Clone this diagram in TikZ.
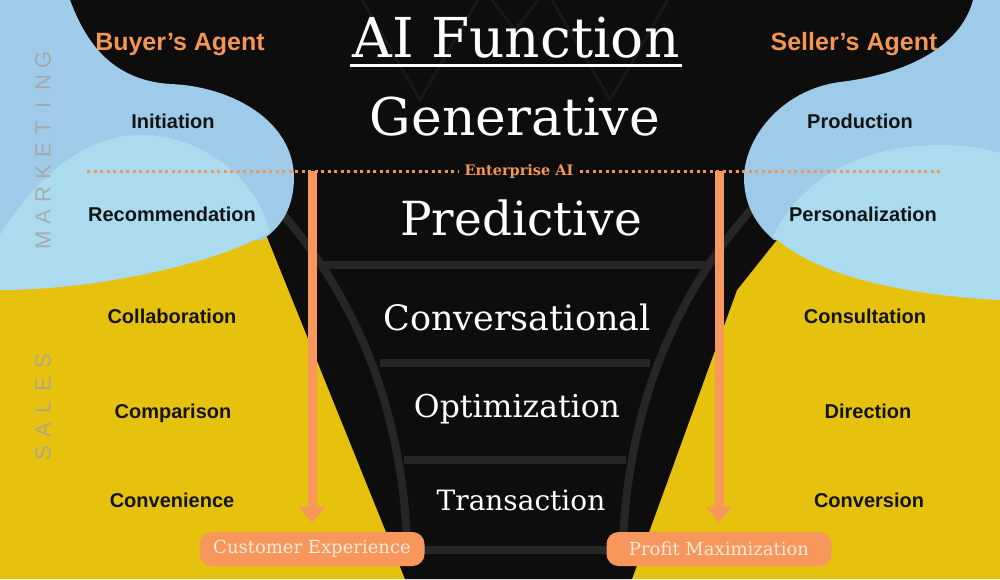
\documentclass[tikz,border=0pt]{standalone}
\usepackage{fontspec}
\setmainfont{DejaVu Serif}
\newfontfamily\labelfont{Liberation Sans}
\usetikzlibrary{arrows.meta}

\definecolor{salesyellow}{HTML}{E6C20E}
\definecolor{marketblue}{HTML}{9DCBE9}
\definecolor{paleblue}{HTML}{AADBEE}
\definecolor{funnelblack}{HTML}{0D0D0D}
\definecolor{bandgray}{HTML}{262626}
\definecolor{ghostgray}{HTML}{181818}
\definecolor{agentorange}{HTML}{F29555}
\definecolor{boxorange}{HTML}{F7975B}
\definecolor{boxtext}{HTML}{FDE9DC}
\definecolor{sidegray}{HTML}{A5A0A0}

\tikzset{
  stage/.style={text=white, anchor=base, inner sep=0pt, font=\fontsize{#1}{#1}\selectfont},
  tasklabel/.style={text=black!92, anchor=base, font=\labelfont\bfseries\fontsize{20}{20}\selectfont},
  agent/.style={text=agentorange, anchor=base, font=\labelfont\bfseries\fontsize{25}{25}\selectfont},
  outcome/.style={fill=boxorange, text=boxtext, rounded corners=12pt, minimum width=225pt,
    minimum height=34pt, inner sep=0pt, font=\fontsize{18}{18}\selectfont},
  sideletter/.style={text=sidegray, opacity=0.8, rotate=90, font=\labelfont\fontsize{22}{22}\selectfont},
  band/.style={draw=bandgray, line width=8pt},
  ghost/.style={draw=ghostgray, line width=3pt},
  enterdots/.style={draw=agentorange, line width=3pt, dash pattern=on 3pt off 3.5pt},
  droparrow/.style={draw=boxorange, line width=9pt, -{Triangle[width=25pt,length=16pt]}, shorten >=9pt}
}

\begin{document}
\begin{tikzpicture}[x=1pt, y=-1pt]
  \useasboundingbox (0,0) rectangle (1000,579);

  % Background and funnel
  \fill[salesyellow] (0,0) rectangle (1000,579);
  \fill[funnelblack] (0,0) -- (1000,0) -- (1000,240) -- (780,236) -- (737,290) -- (632,579)
    -- (405,579) -- (265,232) -- (0,232) -- cycle;

  % Funnel bands
  \draw[band] (275,205) .. controls (350,290) and (405,400) .. (408,565);
  \draw[band] (755,205) .. controls (680,290) and (625,400) .. (622,565);
  \draw[band] (323,265) -- (707,265);
  \draw[band] (380,363) -- (650,363);
  \draw[band] (404,460) -- (626,460);
  \draw[band] (408,550) -- (622,550);

  % Faint pattern behind the title
  \draw[ghost] (362,0) -- (420,100) -- (478,0);
  \draw[ghost] (552,0) -- (610,100) -- (668,0);
  \draw[ghost] (492,0) -- (515,30) -- (538,0);

  % Marketing blobs, left
  \fill[marketblue] (0,0) -- (70,0) .. controls (85,40) and (110,80) .. (170,84)
    .. controls (230,86) and (295,120) .. (294,180)
    .. controls (293,210) and (280,228) .. (262,240) -- (0,240) -- cycle;
  \fill[paleblue] (0,235) .. controls (40,170) and (90,135) .. (140,135)
    .. controls (200,135) and (255,175) .. (270,232)
    .. controls (220,262) and (100,290) .. (0,290) -- cycle;

  % Marketing blobs, right
  \fill[marketblue] (1000,0) -- (973,0) .. controls (960,50) and (900,75) .. (840,82)
    .. controls (780,90) and (743,140) .. (744,180)
    .. controls (745,210) and (760,228) .. (774,240) -- (1000,240) -- cycle;
  \fill[paleblue] (773,236) .. controls (800,180) and (860,145) .. (940,145)
    .. controls (970,145) and (990,150) .. (1000,153) -- (1000,300)
    .. controls (920,296) and (820,280) .. (773,236) -- cycle;

  % Title and AI functions
  \node[stage=55] (title) at (516,57) {AI Function};
  \draw[white, line width=3pt] ([xshift=-2pt,yshift=-8pt]title.base west) -- ([xshift=2pt,yshift=-8pt]title.base east);
  \node[stage=52] (generative) at (515,135) {Generative};
  \node[stage=47] (predictive) at (521,235) {Predictive};
  \node[stage=35] (conversational) at (517,330) {Conversational};
  \node[stage=31.5] (optimization) at (517,417) {Optimization};
  \node[stage=28] (transaction) at (521,510) {Transaction};

  % Enterprise AI divider
  \node[text=agentorange, inner sep=6pt, font=\bfseries\fontsize{14.5}{14.5}\selectfont] (enterprise) at (519,171) {Enterprise AI};
  \draw[enterdots] (87,171) -- (enterprise.west);
  \draw[enterdots] (enterprise.east) -- (940,171);

  % Agents
  \node[agent] (buyer) at (180,50) {Buyer’s Agent};
  \node[agent] (seller) at (854,50) {Seller’s Agent};

  % Buyer side steps
  \node[tasklabel] (initiation) at (173,128) {Initiation};
  \node[tasklabel] (recommendation) at (172,221) {Recommendation};
  \node[tasklabel] (collaboration) at (172,323) {Collaboration};
  \node[tasklabel] (comparison) at (173,418) {Comparison};
  \node[tasklabel] (convenience) at (172,507) {Convenience};

  % Seller side steps
  \node[tasklabel] (production) at (860,128) {Production};
  \node[tasklabel] (personalization) at (863,221) {Personalization};
  \node[tasklabel] (consultation) at (865,323) {Consultation};
  \node[tasklabel] (direction) at (868,418) {Direction};
  \node[tasklabel] (conversion) at (869,507) {Conversion};

  % Side headings
  \foreach \ch [count=\i] in {M,A,R,K,E,T,I,N,G}
    \node[sideletter] (mkt\i) at ({43},{240-22.5*(\i-1)}) {\ch};
  \foreach \ch [count=\i] in {S,A,L,E,S}
    \node[sideletter] (sls\i) at ({43},{453-23*(\i-1)}) {\ch};

  % Outcomes
  \node[outcome] (custexp) at (312,549) {Customer Experience};
  \node[outcome] (profit) at (719,549) {Profit Maximization};
  \coordinate (buyerdrop) at (312,171);
  \coordinate (sellerdrop) at (719,171);
  \draw[droparrow] (buyerdrop) -- (custexp.north);
  \draw[droparrow] (sellerdrop) -- (profit.north);
\end{tikzpicture}
\end{document}
